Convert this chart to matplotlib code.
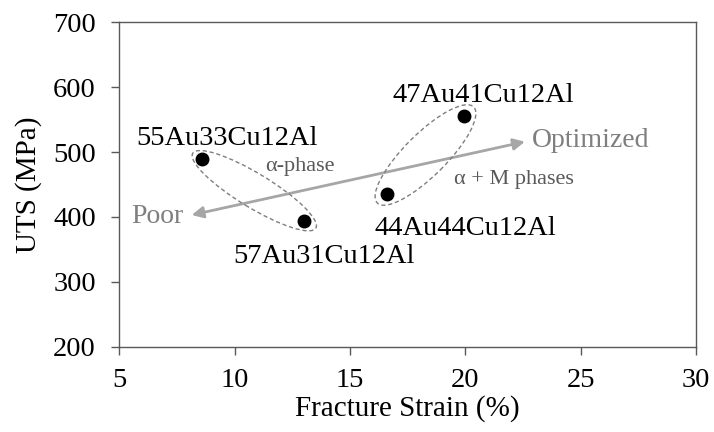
import numpy as np
import matplotlib
matplotlib.use("Agg")
from matplotlib import pyplot as plt
from matplotlib.patches import Ellipse
from matplotlib.transforms import IdentityTransform

# data
alloys = ["55Au33Cu12Al", "57Au31Cu12Al", "44Au44Cu12Al", "47Au41Cu12Al"]
strain = [8.56, 13.0, 16.59, 19.95]
uts = [490, 394, 436, 555]

# label anchors (data coords, baseline)
label_x = [9.65, 13.87, 19.98, 20.78]
label_y = [511, 328.5, 372, 577.6]

# trend arrow ends
arrow_start = (8.13, 403)
arrow_end = (22.58, 516)

plt.rcParams['font.family'] = ['Liberation Serif', 'DejaVu Serif']

fig = plt.figure(figsize=(7.14, 4.32), dpi=100)
ax = fig.add_axes([119.5 / 714, 1 - 346.7 / 432, (696 - 119.5) / 714, (346.7 - 22.3) / 432])

ax.set_xlim(5, 30)
ax.set_ylim(200, 700)
ax.set_xticks(np.arange(5, 31, 5))
ax.set_yticks(np.arange(200, 701, 100))
ax.tick_params(direction='out', length=6, width=1, color='#595959', labelsize=20.5)
ax.tick_params(axis='x', pad=9)
ax.tick_params(axis='y', pad=11)
for sp in ax.spines.values():
    sp.set_color('#595959')
    sp.set_linewidth(1.0)

ax.set_xlabel("Fracture Strain (%)", fontsize=21, labelpad=2)
ax.set_ylabel("UTS (MPa)", fontsize=21, labelpad=8)

ax.plot(strain, uts, 'o', color='black', markersize=9, zorder=5)

for name, lx, ly in zip(alloys, label_x, label_y):
    ax.text(lx, ly, name, fontsize=20.5, ha='center', va='baseline', color='black')

# trend arrow
ax.annotate("", xy=arrow_end, xytext=arrow_start,
            arrowprops=dict(arrowstyle='<|-|>', color='#a6a6a6', lw=2,
                            mutation_scale=17, shrinkA=0, shrinkB=0))
ax.text(22.87, 508.3, "Optimized", fontsize=20, color='#7f7f7f', ha='left', va='baseline')
ax.text(7.77, 390.2, "Poor", fontsize=20, color='#7f7f7f', ha='right', va='baseline')
ax.text(11.31, 471.3, "α-phase", fontsize=16, color='#595959', ha='left', va='baseline')
ax.text(19.5, 450.8, "α + M phases", fontsize=16, color='#595959', ha='left', va='baseline')

# dashed ellipses around the two phase groups (drawn in pixel space)
fig.canvas.draw()
groups = [(0, 1, 144, 34, (1.5, -1.0)), (2, 3, 136, 42, (0.0, 0.0))]
for i, j, major, minor, shift in groups:
    p1 = ax.transData.transform((strain[i], uts[i]))
    p2 = ax.transData.transform((strain[j], uts[j]))
    c = (p1 + p2) / 2 + np.array(shift)
    ang = np.degrees(np.arctan2(p2[1] - p1[1], p2[0] - p1[0]))
    e = Ellipse(c, major, minor, angle=ang, transform=IdentityTransform(),
                fill=False, edgecolor='#7f7f7f', lw=1.0, ls=(0, (3, 2)), zorder=4)
    ax.add_artist(e)

fig.savefig("out.png", dpi=100)
